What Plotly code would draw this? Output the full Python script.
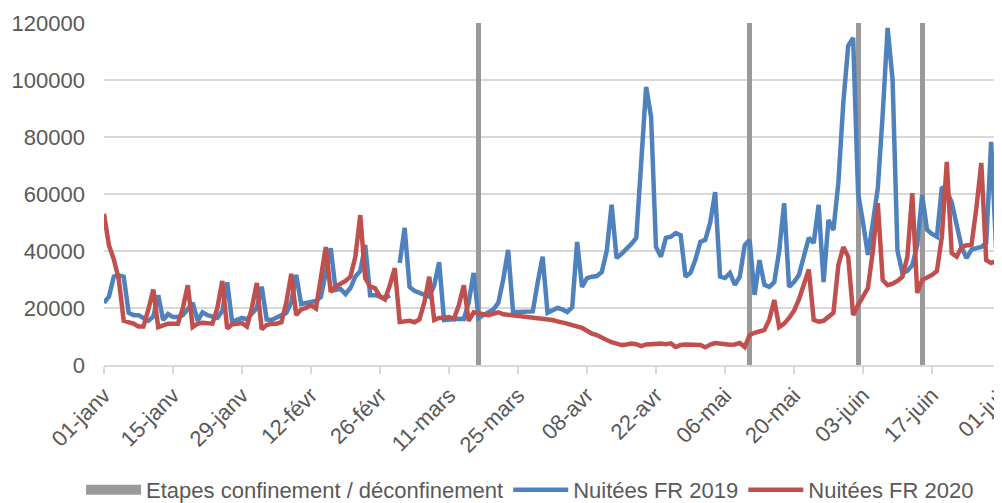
import pandas as pd
import plotly.graph_objects as go

# ---------------- data ----------------
start_date = "2020-01-01"
end_date = "2020-07-01"

# Nuitées FR 2019 (aligned on 2020 calendar, no 29 Feb in 2019)
n2019_jan = [21800, 24000, 31000, 31500, 31000, 18300, 17500, 17500, 16500, 15500,
             17000, 24500, 15800, 17900, 16800, 16800, 17500, 19500, 21800, 15500,
             18500, 17500, 16800, 16500, 19000, 29000, 15100, 16000, 16500, 16000, 18000]
n2019_feb = [20000, 27500, 16000, 15800, 16500, 17500, 18300, 22000, 31600, 21400,
             21800, 22100, 22500, 23900, 32000, 41000, 26300, 26700, 24900, 27000,
             31000, 33000, 42100, 24500, 24500, 24000, 23500, 24500, None]
n2019_mar = [35800, 48100, 27400, 26000, 25300, 24500, 24000, 28000, 36100, 15800,
             16000, 16000, 16200, 16100, 22000, 32300, 16500, 17500, 18500, 19500,
             21800, 30000, 40400, 18600, 18600, 18600, 18600, 18800, 29000, 38000, 18300]
n2019_apr = [19000, 20000, 19500, 18600, 20300, 43200, 27400, 30500, 31000, 31200,
             32600, 40000, 56200, 37500, 39000, 40500, 42500, 44600, 70000, 97600,
             87100, 41400, 38000, 44600, 45000, 46300, 45500, 31000, 32300, 37000]
n2019_may = [43200, 43900, 50000, 60700, 31000, 30500, 32300, 28100, 31000, 42000,
             43900, 24600, 36800, 28100, 27400, 29100, 40000, 56800, 27400, 29100,
             31600, 38000, 44600, 42800, 56200, 29100, 50900, 47400, 63900, 92000, 112000]
n2019_jun = [114800, 60400, 50000, 38600, 50000, 62000, 88000, 118300, 100000, 40000,
             32300, 33000, 35000, 42000, 59600, 47400, 46000, 45000, 62500, 61000,
             57000, 48500, 41400, 37500, 40400, 41000, 41400, 42800, 78300, 41000]
n2019_jul = [38600]

# Nuitées FR 2020
n2020_jan = [53000, 42000, 37000, 30000, 15500, 15000, 14500, 13500, 13500, 19500,
             26500, 13300, 14000, 14500, 14500, 14500, 20000, 28000, 13300, 14500,
             14800, 14500, 14500, 20000, 29500, 12800, 14300, 14500, 14700, 13500, 20000]
n2020_feb = [28800, 12500, 14000, 14500, 14500, 15000, 22000, 32000, 17500, 19500,
             20000, 21000, 19800, 30000, 41400, 25600, 27500, 28500, 29500, 31000,
             38000, 52600, 30500, 27500, 27000, 24000, 23000, 28000, 34000]
n2020_mar = [15100, 15500, 15500, 15000, 16000, 22000, 31000, 15800, 16500, 16500,
             16800, 16200, 21000, 28000, 15500, 18500, 18000, 17800, 17500, 18000,
             18500, 17800, 17600, 17600, 17300, 17200, 17000, 16900, 16500, 16300, 16000]
n2020_apr = [15800, 15300, 15000, 14500, 14000, 13500, 13000, 12000, 11000, 10500,
             9500, 8800, 8000, 7500, 7000, 7200, 7500, 7300, 6600, 7200,
             7400, 7300, 7500, 7300, 7600, 6300, 7000, 7200, 7100, 7000]
n2020_may = [7000, 6200, 7200, 7700, 7500, 7000, 7100, 7200, 7700, 6300,
             10500, 11300, 11800, 12300, 16000, 22800, 13300, 14500, 16500, 19000,
             23000, 28500, 33500, 15800, 15200, 15500, 17000, 18300, 35000, 41400, 38000]
n2020_jun = [17500, 21000, 24000, 27000, 40000, 56800, 29800, 28000, 28500, 29500,
             31000, 38000, 60300, 25300, 29800, 30500, 31600, 33000, 45000, 71300,
             39300, 38000, 41400, 42000, 42000, 55000, 70900, 36800, 35800, 36500]
n2020_jul = [39300]

# Etapes confinement / déconfinement
etapes_dates = ["2020-03-17", "2020-05-11", "2020-06-02", "2020-06-15"]
etapes_values = [120000, 120000, 120000, 120000]

tick_dates = ["2020-01-01", "2020-01-15", "2020-01-29", "2020-02-12", "2020-02-26",
              "2020-03-11", "2020-03-25", "2020-04-08", "2020-04-22", "2020-05-06",
              "2020-05-20", "2020-06-03", "2020-06-17", "2020-07-01"]
tick_labels = ["01-janv", "15-janv", "29-janv", "12-févr", "26-févr", "11-mars",
               "25-mars", "08-avr", "22-avr", "06-mai", "20-mai", "03-juin",
               "17-juin", "01-juil"]

# ---------------- figure ----------------
dates = pd.date_range(start_date, end_date, freq="D")
n2019 = n2019_jan + n2019_feb + n2019_mar + n2019_apr + n2019_may + n2019_jun + n2019_jul
n2020 = n2020_jan + n2020_feb + n2020_mar + n2020_apr + n2020_may + n2020_jun + n2020_jul

FONT = "Liberation Sans, Arial, sans-serif"
TXT = "#595959"
GRID = "#d9d9d9"
GREY = "#999999"

fig = go.Figure()
fig.add_trace(go.Bar(
    x=etapes_dates, y=etapes_values, name="Etapes confinement / déconfinement",
    marker=dict(color=GREY, line=dict(width=0)), width=86400000 * 1.0,
    showlegend=False, legendgroup="etapes",
))
# legend entry for the bars (wide rectangle swatch, as in the original)
fig.add_trace(go.Scatter(
    x=[None], y=[None], name="Etapes confinement / déconfinement", mode="lines",
    line=dict(color=GREY, width=12), legendgroup="etapes",
))
fig.add_trace(go.Scatter(
    x=dates, y=n2019, name="Nuitées FR 2019", mode="lines",
    line=dict(color="#4f81bd", width=4.5), connectgaps=False,
))
fig.add_trace(go.Scatter(
    x=dates, y=n2020, name="Nuitées FR 2020", mode="lines",
    line=dict(color="#c0504d", width=4.5),
))

# page has an 8px body margin: figure sized to fit the 1002x503 window
fig.update_layout(
    width=994, height=495,
    margin=dict(l=96, r=1, t=15, b=138, autoexpand=False),
    paper_bgcolor="white", plot_bgcolor="white",
    font=dict(family=FONT, size=22, color=TXT),
    showlegend=True,
    legend=dict(orientation="h", x=0.475, xanchor="center", y=-0.365, yanchor="middle",
                font=dict(size=22, color=TXT), traceorder="normal", itemwidth=55),
    bargap=0,
)
fig.update_xaxes(
    type="date", range=[start_date, end_date], automargin=False,
    tickmode="array", tickvals=tick_dates, ticktext=tick_labels, tickangle=-45,
    showgrid=False, showline=True, linecolor=GRID, linewidth=1.5,
    ticks="outside", ticklen=7, tickcolor=GRID, tickwidth=1.5,
    tickfont=dict(size=22, color=TXT), zeroline=False, ticklabeloverflow="allow",
)
fig.update_yaxes(
    range=[0, 120000], tickmode="linear", tick0=0, dtick=20000, automargin=False,
    showgrid=True, gridcolor=GRID, gridwidth=1.5, zeroline=False,
    showline=False, tickformat="d", tickfont=dict(size=22, color=TXT),
    ticklabelstandoff=18,
)

fig.write_html("out.html")
